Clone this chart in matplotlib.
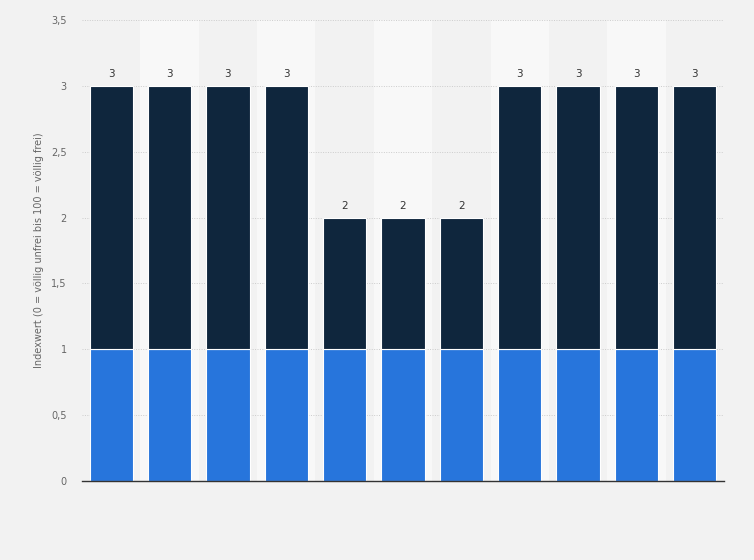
import matplotlib
matplotlib.use("Agg")
import matplotlib.pyplot as plt
from matplotlib.ticker import FuncFormatter

categories = [str(i) for i in range(1, 12)]
base_values = [1, 1, 1, 1, 1, 1, 1, 1, 1, 1, 1]
top_values = [2, 2, 2, 2, 1, 1, 1, 2, 2, 2, 2]
totals = [3, 3, 3, 3, 2, 2, 2, 3, 3, 3, 3]
yticks = [0, 0.5, 1, 1.5, 2, 2.5, 3, 3.5]

bg = "#f2f2f2"
fig = plt.figure(figsize=(7.54, 5.60), dpi=100, facecolor=bg)
ax = fig.add_axes([82/754, 79/560, 642/754, 461/560])
ax.set_facecolor(bg)

x = list(range(len(categories)))
for i in x:
    if i % 2 == 1:
        ax.axvspan(i - 0.5, i + 0.5, color="#f8f8f8", zorder=0, lw=0)

ax.bar(x, base_values, width=0.74, color="#2775dc", edgecolor="white", linewidth=0.8, zorder=3)
ax.bar(x, top_values, bottom=base_values, width=0.74, color="#0f263d", edgecolor="white", linewidth=0.8, zorder=3)

for i, t in zip(x, totals):
    ax.text(i, t + 0.05, str(t), ha="center", va="bottom", fontsize=7.5, color="#333333", zorder=4)

ax.set_xlim(-0.5, len(categories) - 0.5)
ax.set_ylim(0, 3.5)
ax.set_yticks(yticks)
ax.yaxis.set_major_formatter(FuncFormatter(lambda v, p: ("%g" % v).replace(".", ",")))
ax.set_xticks([])
ax.tick_params(axis="y", length=0, labelsize=7, labelcolor="#666666", pad=11)
ax.grid(axis="y", color="#cccccc", linestyle=(0, (1, 1.5)), linewidth=0.7, zorder=1)
for s in ["top", "right", "left"]:
    ax.spines[s].set_visible(False)
ax.spines["bottom"].set_color("#333333")
ax.spines["bottom"].set_linewidth(1)
ax.spines["bottom"].set_zorder(5)
ax.set_ylabel("Indexwert (0 = völlig unfrei bis 100 = völlig frei)", fontsize=7, color="#666666", labelpad=5)

fig.savefig("out.png", dpi=100, facecolor=bg)
